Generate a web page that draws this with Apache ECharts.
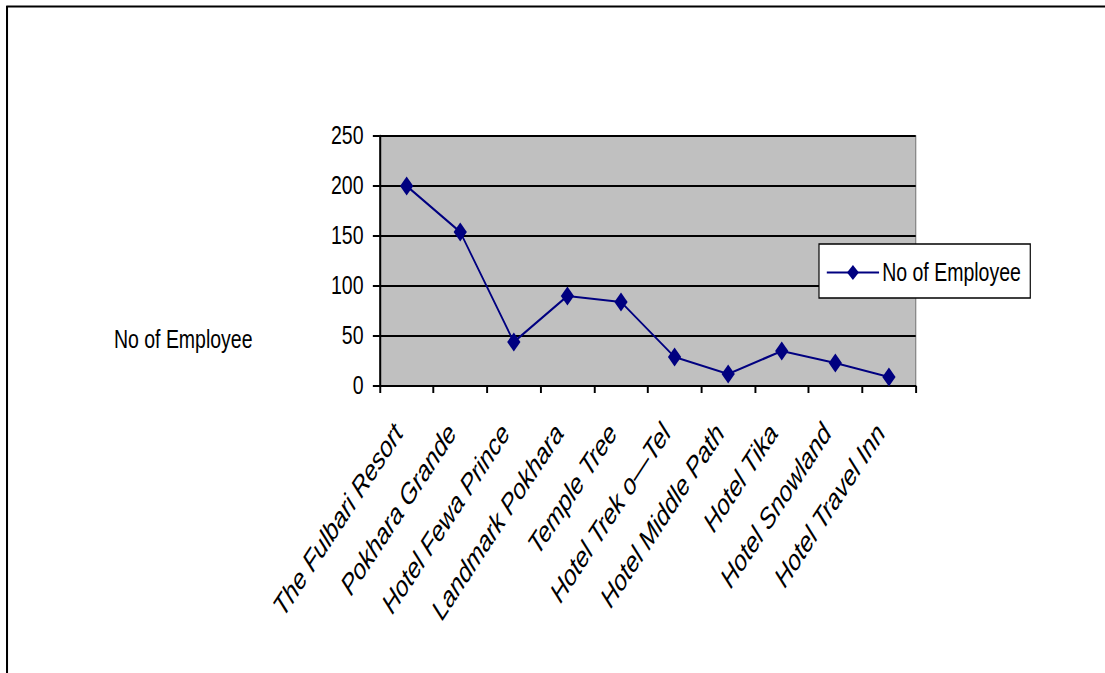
<!DOCTYPE html>
<html>
<head>
<meta charset="utf-8">
<script src="https://cdn.jsdelivr.net/npm/echarts@6/dist/echarts.min.js"></script>
<style>
  html, body { margin: 0; padding: 0; background: #fff; overflow: hidden; }
  /* the original picture is squeezed sideways, so draw wide and squeeze it back */
  #main { width: 1417px; height: 673px; transform: scaleX(0.78); transform-origin: 0 0; }
</style>
</head>
<body>
<div id="main"></div>
<script>
	var hotels = ['The Fulbari Resort', 'Pokhara Grande', 'Hotel Fewa Prince', 'Landmark Pokhara',
		'Temple Tree', 'Hotel Trek o\u2014Tel', 'Hotel Middle Path', 'Hotel Tika', 'Hotel Snowland', 'Hotel Travel Inn'];
	var employees = [200, 154, 44, 90, 84, 29, 12, 35, 23, 9];
	var yTicks = [0, 50, 100, 150, 200, 250];
	var seriesName = 'No of Employee';

	var font = '"Liberation Sans", Arial, sans-serif';
	var chart = echarts.init(document.getElementById('main'), null, { renderer: 'svg' });

	chart.setOption({
		animation: false,
		backgroundColor: '#fff',
		grid: {
			left: 487, right: 243, top: 136, bottom: 287,
			show: true,
			backgroundColor: '#c0c0c0',
			borderColor: '#808080',
			borderWidth: 1.5
		},
		legend: {
			data: [seriesName],
			left: 1050, top: 244,
			backgroundColor: '#fff',
			borderColor: '#000',
			borderWidth: 1.5,
			borderRadius: 0,
			padding: [16, 12, 13, 9],
			itemWidth: 67,
			itemHeight: 19,
			itemGap: 0,
			textStyle: { fontFamily: font, fontSize: 25, color: '#000', padding: [0, 0, 0, -1] }
		},
		xAxis: {
			type: 'category',
			data: hotels,
			boundaryGap: true,
			axisLine: { lineStyle: { color: '#000', width: 2 } },
			axisTick: { show: true, length: 7, lineStyle: { color: '#000', width: 2.5 } },
			axisLabel: {
				rotate: 50,
				margin: 51,
				interval: 0,
				verticalAlign: 'bottom',
				fontFamily: font,
				fontStyle: 'italic',
				fontSize: 29,
				color: '#000'
			},
			splitLine: { show: false }
		},
		yAxis: {
			type: 'value',
			min: yTicks[0],
			max: yTicks[yTicks.length - 1],
			interval: yTicks[1] - yTicks[0],
			axisLine: { show: true, lineStyle: { color: '#000', width: 2.5 } },
			axisTick: { show: true, length: 9, lineStyle: { color: '#000', width: 2 } },
			axisLabel: { margin: 21, fontFamily: font, fontSize: 25, color: '#000' },
			splitLine: { show: true, lineStyle: { color: '#000', width: 2 } }
		},
		graphic: [
			{ type: 'line', shape: { x1: 8, y1: 6.5, x2: 1417, y2: 6.5 }, style: { stroke: '#000', lineWidth: 2 } },
			{ type: 'line', shape: { x1: 9, y1: 6, x2: 9, y2: 673 }, style: { stroke: '#000', lineWidth: 2.6 } },
			{
				type: 'text', left: 146, top: 327,
				style: { text: seriesName, font: '25px ' + font, fill: '#000' }
			}
		],
		series: [{
			name: seriesName,
			type: 'line',
			data: employees,
			symbol: 'diamond',
			symbolSize: [17, 19],
			lineStyle: { color: '#000080', width: 2.2 },
			itemStyle: { color: '#000080' }
		}]
	});
</script>
</body>
</html>
